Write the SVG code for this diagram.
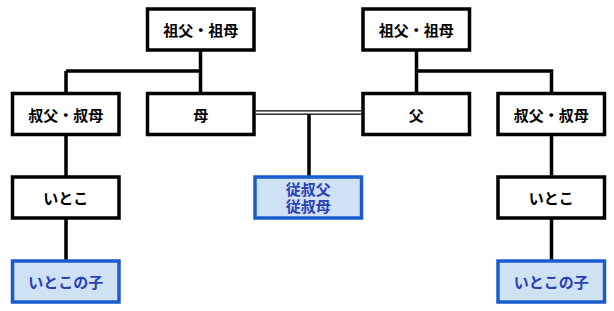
<svg xmlns="http://www.w3.org/2000/svg" width="614" height="311" viewBox="0 0 614 311">
<style>
.n rect{fill:#fff;stroke:#000;stroke-width:3.5}
.b rect{fill:#cfe2f3;stroke:#1a5ccf;stroke-width:3.5}
text{font-family:"Noto Sans CJK JP","Noto Sans",sans-serif;font-weight:bold;font-size:15px;text-anchor:middle;dominant-baseline:central}
.n text{fill:#000}
.b text{fill:#2a3fb8}
.c path{fill:none;stroke:#000;stroke-width:3.5}
.c .d{stroke-width:1.2}
</style>
<rect width="614" height="311" fill="#fff"/>
<g class="c" id="connectors">
<path d="M200.5 51V92M66 71H200.5"/>
<path d="M416.5 51V92M416.5 71H551.5V92"/>
<path d="M66 71V92M66 135V176M66 219V260"/>
<path d="M551.5 135V176M551.5 219V260"/>
<path class="d" d="M256 110.8H361M256 114.2H361"/>
<path d="M309 114.5V176"/>
</g>
<g class="n" id="gp-left"><rect x="147.5" y="9" width="106.5" height="41"/><text x="200.7" y="29.5">祖父・祖母</text></g>
<g class="n" id="gp-right"><rect x="363" y="9" width="106.5" height="41"/><text x="416.2" y="29.5">祖父・祖母</text></g>
<g class="n" id="uncle-left"><rect x="12.5" y="93.5" width="106.5" height="41"/><text x="65.7" y="114">叔父・叔母</text></g>
<g class="n" id="mother"><rect x="147.5" y="93.5" width="106.5" height="41"/><text x="200.7" y="114">母</text></g>
<g class="n" id="father"><rect x="363" y="93.5" width="106.5" height="41"/><text x="416.2" y="114">父</text></g>
<g class="n" id="uncle-right"><rect x="498" y="93.5" width="106.5" height="41"/><text x="551.2" y="114">叔父・叔母</text></g>
<g class="n" id="cousin-left"><rect x="12.5" y="177" width="106.5" height="41"/><text x="65.7" y="197.5">いとこ</text></g>
<g class="n" id="cousin-right"><rect x="498" y="177" width="106.5" height="41"/><text x="551.2" y="197.5">いとこ</text></g>
<g class="b" id="second-cousin"><rect x="255" y="177" width="106.5" height="41"/><text x="308.2" y="188.5">従叔父</text><text x="308.2" y="205.5">従叔母</text></g>
<g class="b" id="cousin-child-left"><rect x="12.5" y="261" width="106.5" height="41"/><text x="65.7" y="281.5">いとこの子</text></g>
<g class="b" id="cousin-child-right"><rect x="498" y="261" width="106.5" height="41"/><text x="551.2" y="281.5">いとこの子</text></g>
</svg>
